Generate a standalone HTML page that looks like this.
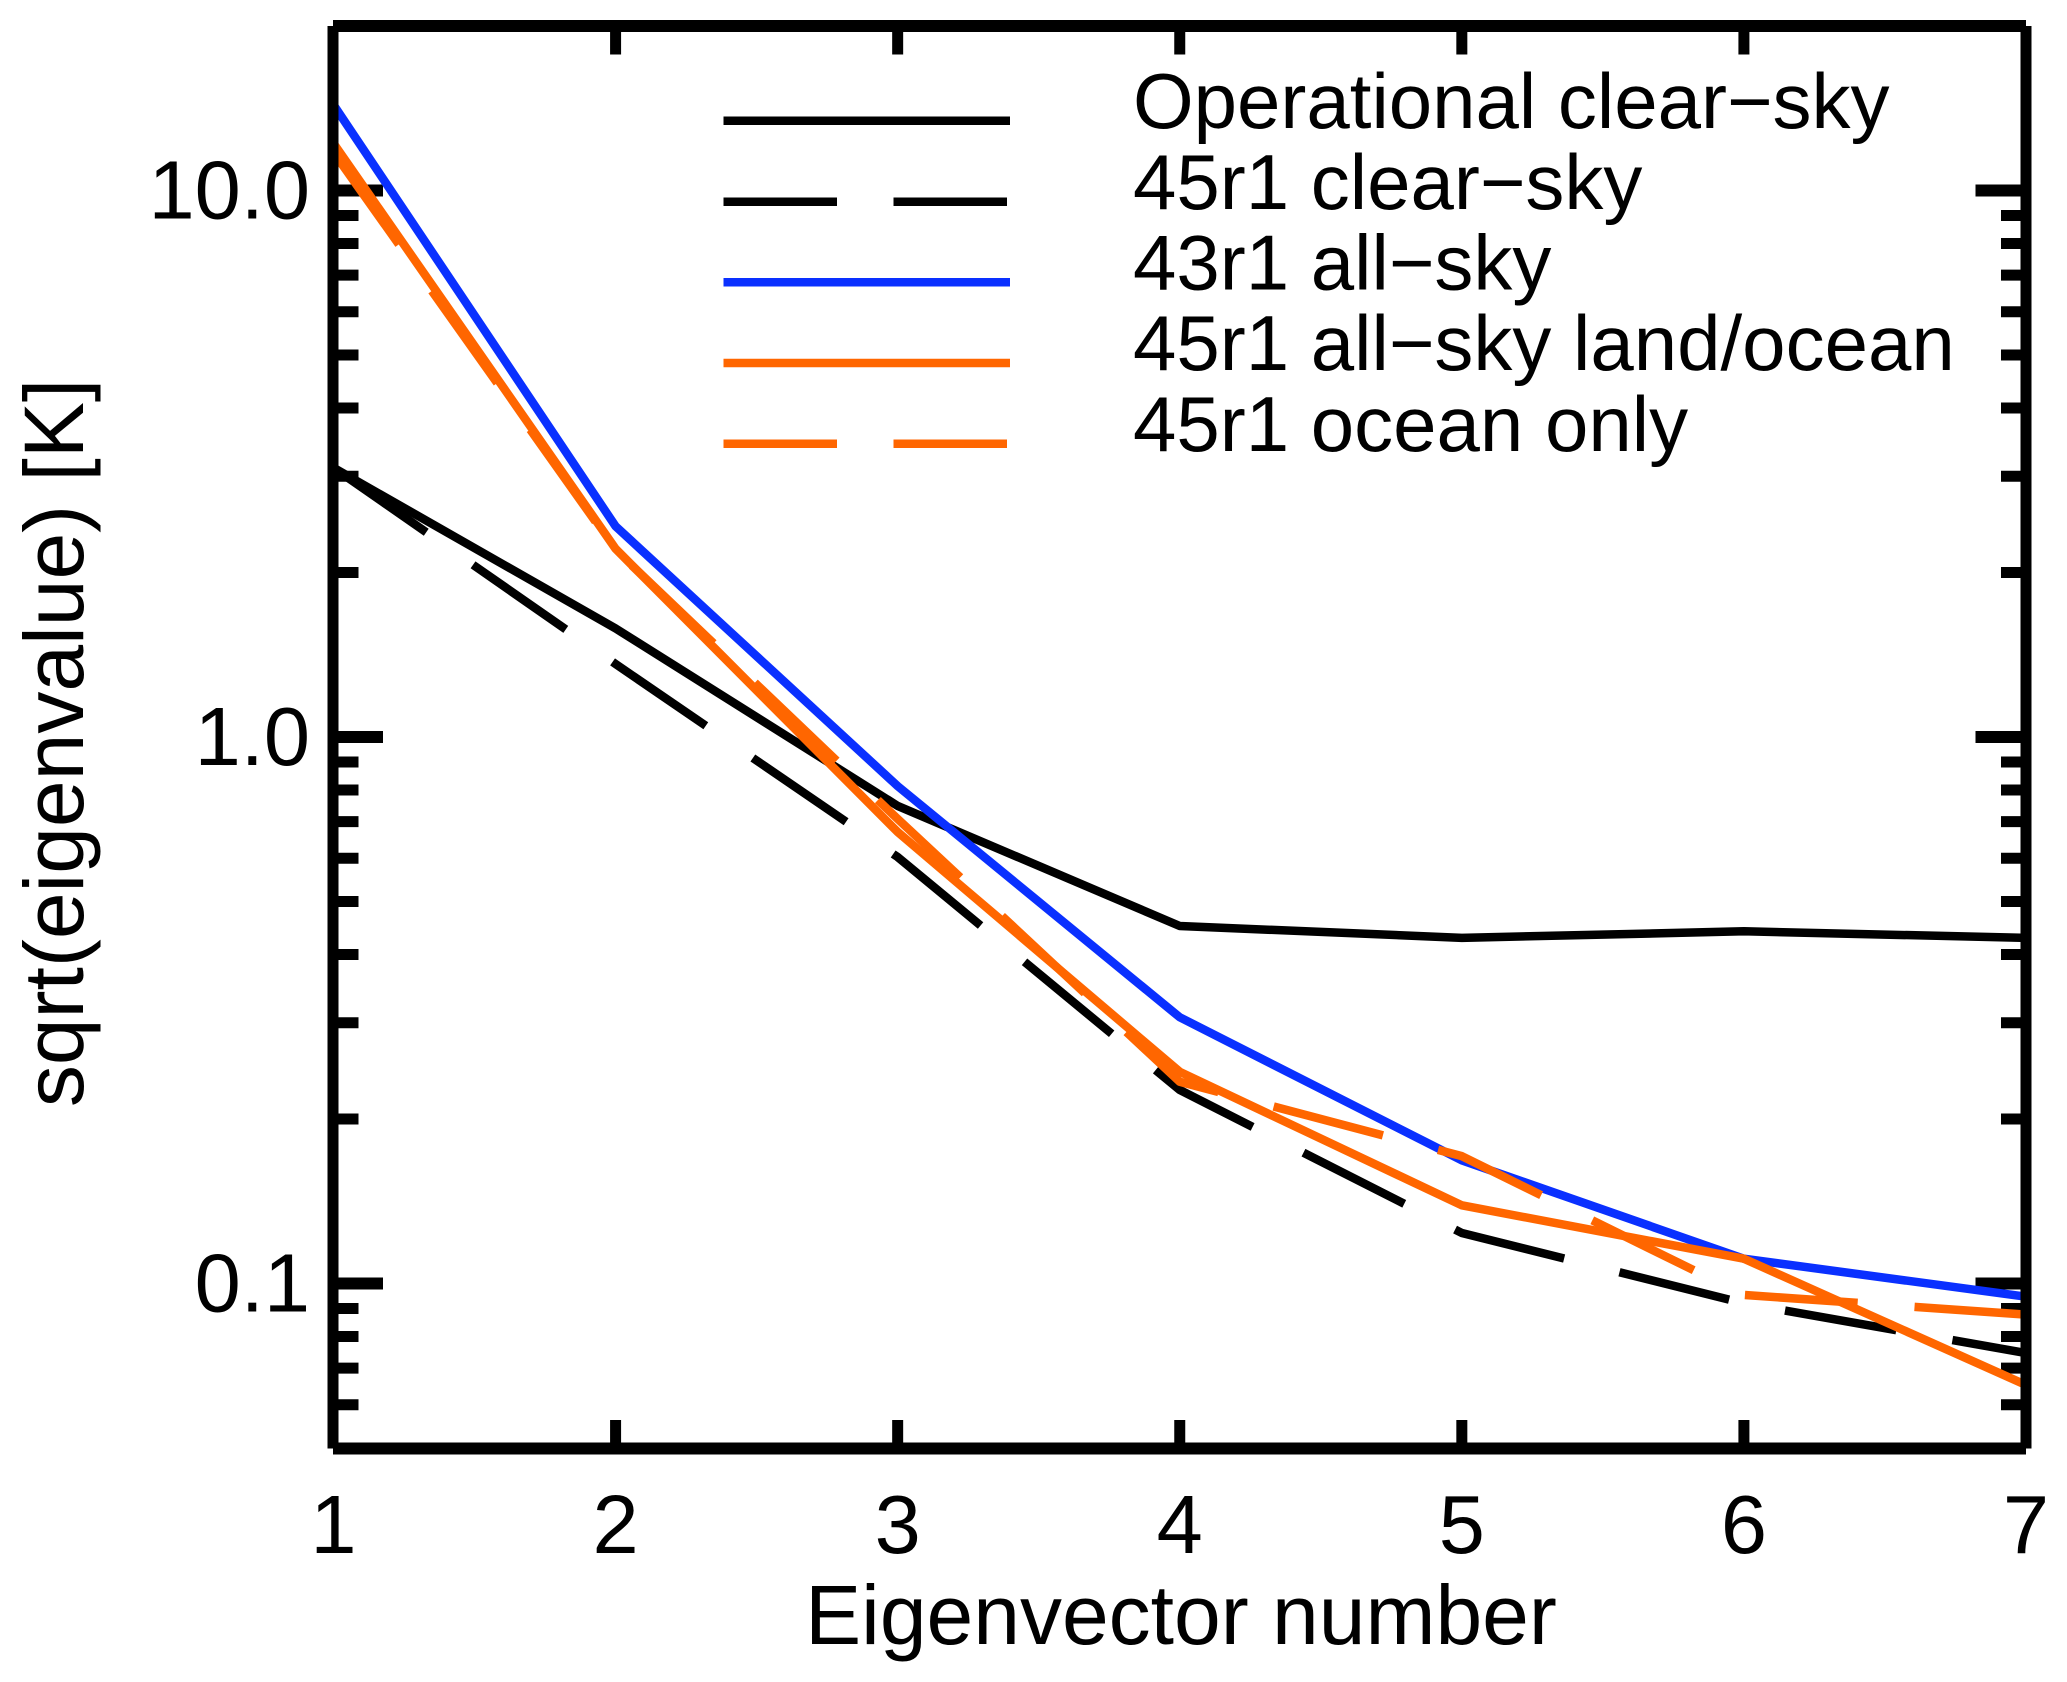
<!DOCTYPE html>
<html lang="en">
<head>
<meta charset="utf-8">
<title>Eigenvalue spectrum</title>
<style>
  html, body { margin: 0; padding: 0; background: #fff; }
  #chart { display: block; width: 2067px; height: 1682px; font-family: "Liberation Sans", sans-serif; fill: #000; }
</style>
</head>
<body>
<svg id="chart" xmlns="http://www.w3.org/2000/svg" width="2067" height="1682" viewBox="0 0 2067 1682">
  <rect x="0" y="0" width="2067" height="1682" fill="#ffffff"/>
  <g id="ticks"></g>
  <g id="series"></g>
  <g stroke="#000" fill="none">
    <line x1="333" y1="26" x2="333" y2="1448.5" stroke-width="11"/>
    <line x1="2026" y1="26" x2="2026" y2="1448.5" stroke-width="11"/>
    <line x1="333" y1="26" x2="2026" y2="26" stroke-width="12"/>
    <line x1="333" y1="1448.5" x2="2026" y2="1448.5" stroke-width="12"/>
  </g>
  <g id="tick-labels" font-size="83"></g>
  <text x="1181" y="1644" font-size="84" text-anchor="middle">Eigenvector number</text>
  <text transform="translate(83,743) rotate(-90)" font-size="84" text-anchor="middle">sqrt(eigenvalue) [K]</text>
  <g font-size="78">
    <g>
      <line x1="723.5" y1="120.7" x2="1010" y2="120.7" stroke="#000000" stroke-width="8.5"/>
      <text x="1133" y="128">Operational clear−sky</text>
    </g>
    <g>
      <line x1="723.5" y1="201.7" x2="1010" y2="201.7" stroke="#000000" stroke-width="8.5" stroke-dasharray="113.5 56.5"/>
      <text x="1133" y="209">45r1 clear−sky</text>
    </g>
    <g>
      <line x1="723.5" y1="282.3" x2="1010" y2="282.3" stroke="#0a30ff" stroke-width="8.5"/>
      <text x="1133" y="289.5">43r1 all−sky</text>
    </g>
    <g>
      <line x1="723.5" y1="363" x2="1010" y2="363" stroke="#ff6600" stroke-width="8.5"/>
      <text x="1133" y="370">45r1 all−sky land/ocean</text>
    </g>
    <g>
      <line x1="723.5" y1="443.7" x2="1010" y2="443.7" stroke="#ff6600" stroke-width="8.5" stroke-dasharray="113.5 56.5"/>
      <text x="1133" y="451">45r1 ocean only</text>
    </g>
  </g>
</svg>
<script>
// Chart data
const eigenvectorNumbers = [1, 2, 3, 4, 5, 6, 7];
const operationalClearSky = [3.11, 1.58, 0.748, 0.451, 0.429, 0.441, 0.429];
const clearSky45r1 = [3.11, 1.36, 0.603, 0.226, 0.1237, 0.092, 0.0746];
const allSky43r1 = [14.35, 2.43, 0.813, 0.307, 0.168, 0.111, 0.0946];
const allSkyLandOcean45r1 = [12.2, 2.21, 0.67, 0.244, 0.139, 0.111, 0.0652];
const oceanOnly45r1 = [11.75, 2.2, 0.708, 0.234, 0.171, 0.0953, 0.0877];
const xTickLabels = ["1", "2", "3", "4", "5", "6", "7"];
const yMajorValues = [10, 1, 0.1];
const yMajorLabels = ["10.0", "1.0", "0.1"];
const yMinorValues = [20, 9, 8, 7, 6, 5, 4, 3, 2, 0.9, 0.8, 0.7, 0.6, 0.5, 0.4, 0.3, 0.2, 0.09, 0.08, 0.07, 0.06, 0.05];

// Axis functions
const X_MIN = 1, X_MAX = 7, Y_MIN = 0.05, Y_MAX = 20;
const LEFT = 333.5, RIGHT = 2026, TOP = 26, BOTTOM = 1448;
function xScale(v) { return LEFT + (v - X_MIN) / (X_MAX - X_MIN) * (RIGHT - LEFT); }
function yScale(v) { return TOP + (Math.log10(Y_MAX) - Math.log10(v)) / (Math.log10(Y_MAX) - Math.log10(Y_MIN)) * (BOTTOM - TOP); }

const NS = "http://www.w3.org/2000/svg";
const ticksGroup = document.getElementById("ticks");
const labelsGroup = document.getElementById("tick-labels");
const seriesGroup = document.getElementById("series");

function makeLine(x1, y1, x2, y2, width) {
  const el = document.createElementNS(NS, "line");
  el.setAttribute("x1", x1);
  el.setAttribute("y1", y1);
  el.setAttribute("x2", x2);
  el.setAttribute("y2", y2);
  el.setAttribute("stroke", "#000");
  el.setAttribute("stroke-width", width);
  ticksGroup.appendChild(el);
  return el;
}

// X ticks (top and bottom) and labels
eigenvectorNumbers.forEach(function (n, i) {
  const x = xScale(n);
  if (n > X_MIN && n < X_MAX) {
    const bottomTick = makeLine(x, BOTTOM, x, 1420, 11);
    
    
    const topTick = makeLine(x, TOP, x, 54.5, 11);
    
    
  }
  const label = document.createElementNS(NS, "text");
  label.setAttribute("x", x);
  label.setAttribute("y", 1553);
  label.setAttribute("text-anchor", "middle");
  label.textContent = xTickLabels[i];
  
  
  labelsGroup.appendChild(label);
});

// Y major ticks and labels
yMajorValues.forEach(function (v, i) {
  const y = yScale(v);
  const leftTick = makeLine(LEFT, y, 383, y, 12);
  
  
  const rightTick = makeLine(RIGHT, y, 1975.5, y, 12);
  
  
  const label = document.createElementNS(NS, "text");
  label.setAttribute("x", 310);
  label.setAttribute("y", y + 28);
  label.setAttribute("text-anchor", "end");
  label.textContent = yMajorLabels[i];
  
  
  labelsGroup.appendChild(label);
});

// Y minor ticks
yMinorValues.forEach(function (v) {
  const y = yScale(v);
  const leftMinor = makeLine(LEFT, y, 358.5, y, 11);
  
  
  const rightMinor = makeLine(RIGHT, y, 2001, y, 11);
  
  
});

// Series lines
function drawSeries(values, color, dashed) {
  const el = document.createElementNS(NS, "polyline");
  const pts = values.map(function (v, i) {
    return xScale(eigenvectorNumbers[i]).toFixed(2) + "," + yScale(v).toFixed(2);
  }).join(" ");
  el.setAttribute("points", pts);
  el.setAttribute("fill", "none");
  el.setAttribute("stroke", color);
  el.setAttribute("stroke-width", "8.5");
  el.setAttribute("stroke-linejoin", "round");
  if (dashed) {
    el.setAttribute("stroke-dasharray", "113 57");
  }
  seriesGroup.appendChild(el);
  return el;
}

const line1 = drawSeries(operationalClearSky, "#000000", false);


const line2 = drawSeries(clearSky45r1, "#000000", true);


const line3 = drawSeries(allSky43r1, "#0a30ff", false);


const line4 = drawSeries(allSkyLandOcean45r1, "#ff6600", false);


const line5 = drawSeries(oceanOnly45r1, "#ff6600", true);


</script>
</body>
</html>
